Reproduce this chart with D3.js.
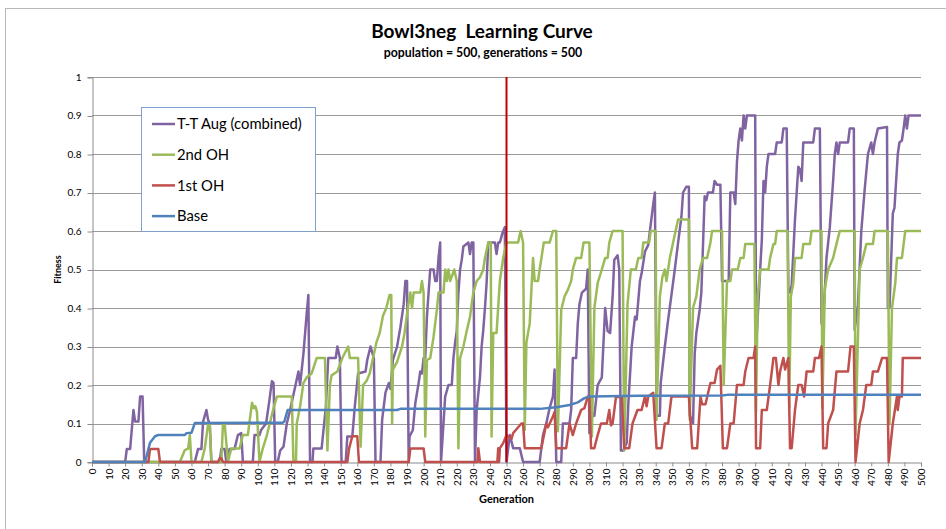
<!DOCTYPE html>
<html><head><meta charset="utf-8">
<script src="https://cdn.jsdelivr.net/npm/d3@7"></script>
<style>body{margin:0;background:#fff;}svg{display:block;font-family:Lato,"Open Sans",sans-serif;}text{white-space:pre;}</style>
</head><body><svg id="c" width="946" height="529"></svg>
<script>
const title = "Bowl3neg  Learning Curve";
const subtitle = "population = 500, generations = 500";
const xLabel = "Generation";
const yLabel = "Fitness";
const xTicks = d3.range(0, 501, 10);
const yTicks = [0,0.1,0.2,0.3,0.4,0.5,0.6,0.7,0.8,0.9,1];
const yTickLabels = ["0","0.1","0.2","0.3","0.4","0.5","0.6","0.7","0.8","0.9","1"];
const markerGen = 250;
const seriesNames = ["T-T Aug (combined)","2nd OH","1st OH","Base"];
const seriesColors = ["#8064a2","#9bbb59","#c0504d","#4f81bd"];

// [generation, fitness] points
const ttAug = [[0,0],[20,0],[21,0.034],[23,0.034],[25,0.135],[26,0.105],[28,0.105],[29,0.17],[30.5,0.17],[31.5,0],
[62,0],[64,0.034],[66,0.034],[67,0.105],[69,0.135],[70,0.11],[71,0.1],[72,0],
[77,0],[78,0.034],[80,0.034],[81,0],[83,0.034],[86,0.034],[88,0.07],[90,0.075],[91,0],
[97,0],[98,0.07],[101,0.07],[102,0.083],[105,0.1],[107,0.16],[108.5,0.21],[109.5,0.205],[110.5,0],
[112,0],[113.5,0.03],[115.5,0.04],[117.5,0.1],[119.5,0.135],[122.5,0.195],[124.5,0.235],[125.5,0.2],[127.5,0.28],[129.5,0.386],[130.5,0.434],[131.5,0],
[133,0],[133.5,0.035],[138.5,0.035],[140,0.1],[141,0.14],[142.5,0.27],[147,0.27],[148,0.3],[149.5,0.27],[150.5,0],
[153,0],[154,0.066],[157,0.066],[158.5,0.144],[160.5,0.23],[165,0.235],[166,0.265],[168,0.3],[170,0.27],[171,0],
[174,0],[175,0.11],[177,0.18],[179,0.205],[180,0.19],[181.5,0.265],[184,0.3],[186,0.35],[188,0.41],[189,0.47],[190,0.47],[191,0],
[191.5,0.066],[193.5,0.083],[195,0.153],[197,0.205],[198,0.235],[199,0.23],[200,0.27],[201,0.27],[202,0.377],[203,0.44],[204,0.5],[206,0.5],[207,0.47],[208,0.47],[209,0.53],[210,0.57],[210.5,0],
[212,0.1],[213,0.17],[215,0.2],[217,0.2],[218,0.27],[219,0.31],[220,0.34],[221,0.44],[222,0.5],[223,0.525],[224,0.56],[227,0.57],[228,0.54],[229,0.57],[230,0.57],[231,0],
[232,0.135],[234,0.22],[235,0.3],[236,0.343],[237,0.4],[238,0.465],[239,0.57],[243,0.57],[244,0.54],[245,0.57],[246,0.57],[247.5,0.594],[249,0.61],[250,0],
[252,0.07],[254,0.036],[258,0.036],[260,0],[270,0],[272,0.07],[274,0.1],[276,0.14],[278,0.17],[279,0.24],[280,0],[283,0],
[284,0.1],[288,0.1],[289,0.135],[290,0.27],[292,0.27],[293,0.36],[294,0.41],[295.5,0.44],[298,0.45],[299,0.5],[300,0.075],
[301,0.1],[302,0.127],[303,0.12],[305,0.2],[307.5,0.22],[309.5,0.4],[311,0.34],[312.5,0.335],[314,0.43],[315,0.525],[317,0.537],[318,0.5],[319,0.03],
[320.5,0.03],[322.5,0.05],[323.5,0.153],[325.5,0.3],[327.5,0.377],[328.5,0.37],[330.5,0.47],[331.5,0.49],[333.5,0.546],[335.5,0.564],[336.5,0.6],[338.5,0.67],[339.5,0.7],[340.5,0.12],
[342.5,0.12],[343,0.205],[345.5,0.3],[347.5,0.37],[349.5,0.434],[351.5,0.5],[353.5,0.57],[355.5,0.637],[356.5,0.7],[358.5,0.715],[360,0.715],[360.5,0.12],[362.5,0.1],
[363.5,0.28],[364.5,0.335],[366.5,0.395],[367.5,0.44],[368.5,0.56],[369.5,0.69],[370.5,0.68],[371.5,0.7],[374.5,0.7],[375.5,0.73],[377,0.72],[379,0.72],[380,0.47],[384,0.47],
[385,0.7],[387,0.7],[388,0.67],[389,0.78],[390,0.835],[391,0.866],[392,0.835],[393,0.9],[394,0.866],[395,0.9],[400,0.9],[400.5,0.335],[401,0.335],
[403,0.5],[404,0.577],[405,0.73],[406,0.7],[407,0.767],[408,0.8],[412,0.8],[413,0.83],[416,0.83],[417,0.866],[419,0.866],[420,0.45],[421,0.44],[422,0.46],
[424,0.63],[426,0.767],[427,0.76],[428,0.73],[429,0.83],[435,0.83],[436,0.866],[439,0.866],[440,0.36],[441,0.365],[443,0.53],[445,0.61],[447,0.73],[448,0.8],[449,0.83],[450,0.8],[451,0.83],[456,0.83],[457,0.866],[459.5,0.866],
[460,0.343],[462,0.41],[464,0.6],[466,0.706],[468,0.8],[470,0.83],[471,0.8],[472,0.83],[474,0.866],[479.5,0.87],[480,0.4],[481,0.4],[483,0.646],[484,0.66],[486,0.8],[487,0.83],[488.5,0.835],[489.5,0.866],[490.5,0.9],[491.5,0.866],[492.5,0.9],[500,0.9]];

const oh2 = [[0,0],[53,0],[56,0.031],[58,0.035],[59,0.07],[60,0],[66,0],[68,0.035],[70,0.097],[71,0.1],[72,0],[78,0],[79,0.1],[80,0.1],[82,0],
[84,0.035],[89,0.035],[91,0.07],[94,0.07],[96.5,0.154],[97.5,0.14],[98.5,0.145],[99.5,0.13],[101,0],[103,0.035],[105.5,0.07],[107.5,0.105],[109.5,0.14],[111.5,0.17],[120.5,0.17],[121.5,0],[123,0],
[123.5,0.1],[125.5,0.144],[127.5,0.205],[129.5,0.22],[132.5,0.23],[135.5,0.27],[140.5,0.27],[142,0.03],[143.5,0.2],[144.5,0.225],[148,0.235],[151,0.27],[154.5,0.3],[155.5,0.27],[160.5,0.27],[162,0.04],
[163.5,0.2],[165.5,0.21],[167.5,0.23],[169.5,0.27],[171.5,0.31],[173.5,0.335],[175.5,0.38],[177.5,0.4],[179.5,0.434],[180.5,0.434],[181,0.1],[181.5,0.24],[184,0.26],[187,0.3],[188.5,0.335],[190.5,0.4],
[192,0.44],[193,0.4],[194,0.44],[198,0.44],[199,0.47],[200,0.44],[201,0.066],[202,0.265],[204,0.27],[206,0.325],[208,0.395],[209,0.44],[212,0.44],[213,0.5],[214,0.47],[215,0.5],[216,0.47],[218.5,0.5],[220,0.47],[221,0.036],
[222,0.27],[224,0.3],[226,0.34],[228,0.377],[229,0.41],[230,0.44],[232,0.47],[234,0.48],[236,0.5],[237,0.53],[239,0.57],[240.5,0.57],[241,0.066],[242,0.335],[244,0.335],[246,0.47],[247,0.5],[248,0.53],[250,0.57],
[257,0.57],[258.5,0.6],[260,0.57],[261,0.083],[262,0.31],[264,0.36],[266,0.53],[267,0.47],[269,0.47],[270,0.5],[272.5,0.57],[276,0.57],[278,0.6],[280,0.6],[281,0.08],
[283,0.395],[285,0.43],[287,0.447],[289,0.47],[290,0.5],[292,0.53],[295,0.53],[296.5,0.57],[300,0.57],[301.5,0.066],[303,0.4],[305,0.465],[307.5,0.5],[309.5,0.53],[311,0.53],[312,0.57],[314,0.6],[320,0.6],[321,0.03],
[323,0.41],[325,0.5],[328,0.5],[329.5,0.53],[331.5,0.53],[332.5,0.57],[336,0.57],[337,0.6],[340,0.6],[340.5,0.11],[342.5,0.43],[344,0.48],[345.5,0.5],[346.5,0.47],[348.5,0.53],[350.5,0.57],[353.5,0.63],[360,0.63],[360.5,0.11],
[362.5,0.4],[364.5,0.43],[366.5,0.5],[368.5,0.53],[371,0.53],[373,0.57],[374,0.6],[380,0.6],[381,0.2],[383,0.47],[385,0.47],[386,0.5],[389.5,0.5],[391,0.53],[393,0.53],[394,0.566],[399.5,0.566],[400.5,0.13],
[401.5,0.43],[403,0.5],[408,0.5],[409,0.53],[411,0.566],[412,0.566],[413,0.6],[419.5,0.6],[420.5,0.14],[421.5,0.43],[423,0.465],[424,0.53],[428,0.53],[429,0.566],[433,0.566],[434,0.6],[440,0.6],[440.5,0.14],
[442,0.45],[444,0.5],[447,0.53],[449,0.566],[451,0.6],[460,0.6],[460.5,0.07],[463,0.5],[465,0.53],[467,0.566],[471,0.566],[472,0.6],[480,0.6],[481,0.1],[482.5,0.4],[484.5,0.465],[485.5,0.53],[488.5,0.53],[489.5,0.566],[490.5,0.6],[500,0.6]];

const oh1 = [[0,0],[34,0],[35,0.034],[40,0.034],[41,0],[76,0],[77,0.01],[78,0.01],[79,0],[154,0],[155,0.034],[157,0.067],[160,0.067],[161,0],
[191,0],[192,0.035],[200,0.035],[201,0],[232.5,0],[233,0.036],[234,0],[244.5,0],[245,0.036],[245.5,0],[246,0.036],[248,0.049],[250,0.07],[251,0.067],[253,0.06],[254,0.075],[256,0.085],[259,0.1],[260,0.1],[261,0.036],
[271,0.036],[274,0.1],[275,0.09],[278,0.118],[279,0.13],[280,0.036],[286,0.036],[288,0.1],[290,0.07],[292,0.1],[295,0.135],[297,0.14],[299,0.17],[300,0.17],[301,0.036],
[303,0.036],[305,0.07],[307,0.1],[310.5,0.1],[312,0.135],[313,0.095],[314,0.1],[316,0.168],[319.5,0.17],[321,0.036],[324,0.036],[326,0.1],[329,0.135],[331.5,0.135],[333.5,0.17],[334.5,0.145],[335.5,0.17],[338.5,0.18],[340.5,0.036],
[343.5,0.036],[345.5,0.1],[347.5,0.1],[349.5,0.17],[360,0.17],[362,0.036],[365,0.036],[367,0.17],[368,0.15],[370,0.15],[373,0.205],[375.5,0.205],[377,0.24],[379,0.25],[380.5,0.036],
[383,0.036],[385,0.1],[387,0.1],[389,0.2],[393,0.2],[394,0.235],[396,0.27],[399,0.27],[400,0.3],[400.5,0.036],[403,0.036],[404,0.135],[407,0.135],[409,0.2],[411,0.27],[412.5,0.27],[414,0.2],[415,0.235],[417,0.27],[418,0.24],[420,0.27],[421,0.036],
[422,0.036],[424,0.135],[426,0.2],[428,0.2],[429.5,0.17],[431,0.235],[435,0.235],[436,0.27],[438.5,0.27],[440,0.3],[441,0.036],[443,0.036],[444,0.1],[447,0.135],[449,0.235],[456,0.235],[457.5,0.3],[459.5,0.3],[460.5,0],
[463,0.1],[465,0.135],[467,0.2],[470,0.2],[471,0.235],[474,0.235],[476.5,0.27],[479.5,0.27],[480.5,0],[483,0.1],[485.5,0.17],[486,0.135],[487,0.17],[488.5,0.17],[489,0.27],[500,0.27]];

const base = [[0,0],[32,0],[35,0.05],[38,0.067],[40,0.07],[56,0.07],[57,0.075],[60,0.076],[62,0.101],[115,0.102],[116,0.105],[118,0.135],[184,0.135],[186,0.138],
[270,0.138],[280,0.142],[288,0.148],[293,0.155],[297,0.166],[300,0.17],[330,0.172],[380,0.173],[384,0.175],[500,0.175]];

const seriesData = [ttAug, oh2, oh1, base];

const W = 946, H = 529;
const margin = {left: 92, right: 25, top: 77, bottom: 67};
const svg = d3.select("#c");

// outer chart frame
svg.append("rect").attr("x", 5.5).attr("y", 8.5).attr("width", 950).attr("height", 530)
  .attr("fill", "#fff").attr("stroke", "#b8b8b8").attr("stroke-width", 1);

const x = d3.scaleLinear().domain([0, 500]).range([margin.left, W - margin.right]);
const y = d3.scaleLinear().domain([0, 1]).range([H - margin.bottom, margin.top]);

// gridlines
svg.append("g").selectAll("line").data(yTicks.slice(1)).join("line")
  .attr("x1", x(0)).attr("x2", x(500))
  .attr("y1", d => Math.round(y(d)) + 0.5).attr("y2", d => Math.round(y(d)) + 0.5)
  .attr("stroke", "#9a9a9a").attr("stroke-width", 1);

// y axis
const yAxis = svg.append("g").attr("transform", `translate(${Math.round(x(0)) + 0.5},0)`)
  .call(d3.axisLeft(y).tickValues(yTicks).tickFormat((d, i) => yTickLabels[i]).tickSize(5).tickPadding(6));
yAxis.select(".domain").attr("stroke", "#8c8c8c");
yAxis.selectAll(".tick line").attr("stroke", "#8c8c8c").attr("transform", "translate(0,0.5)");
yAxis.selectAll("text").attr("font-size", 10).attr("fill", "#000").attr("font-family", "Lato, sans-serif");

// x axis
const xAxis = svg.append("g").attr("transform", `translate(0,${Math.round(y(0)) + 0.5})`)
  .call(d3.axisBottom(x).tickValues(xTicks).tickFormat(d3.format("d")).tickSize(4));
xAxis.select(".domain").attr("stroke", "#8c8c8c");
xAxis.selectAll(".tick line").attr("stroke", "#8c8c8c");
xAxis.selectAll("text").attr("font-size", 10).attr("fill", "#000").attr("font-family", "Lato, sans-serif")
  .attr("transform", "rotate(-90)").attr("text-anchor", "end")
  .attr("x", -6).attr("y", 0).attr("dy", "0.35em");

// series
const line = d3.line().x(d => x(d[0])).y(d => y(d[1]));
seriesData.forEach((s, i) => {
  svg.append("path").datum(s).attr("d", line)
    .attr("fill", "none").attr("stroke", seriesColors[i]).attr("stroke-width", 2.5)
    .attr("stroke-linejoin", "round");
});

// marker line at generation 250
svg.append("line").attr("x1", x(markerGen)).attr("x2", x(markerGen))
  .attr("y1", y(1)).attr("y2", y(0)).attr("stroke", "#c00000").attr("stroke-width", 2);

// titles
svg.append("text").attr("x", 482).attr("y", 38).attr("text-anchor", "middle")
  .attr("font-size", 19).attr("font-weight", "bold").text(title);
svg.append("text").attr("x", 483).attr("y", 57).attr("text-anchor", "middle")
  .attr("font-size", 12.3).attr("font-weight", "bold").text(subtitle);
svg.append("text").attr("x", x(250)).attr("y", 503).attr("text-anchor", "middle")
  .attr("font-size", 11).attr("font-weight", "bold").text(xLabel);
svg.append("text").attr("transform", `translate(61,${y(0.5)}) rotate(-90)`).attr("text-anchor", "middle")
  .attr("font-size", 9).attr("font-weight", "bold").text(yLabel);

// legend
const lg = svg.append("g");
lg.append("rect").attr("x", 141.5).attr("y", 107.5).attr("width", 174).attr("height", 124)
  .attr("fill", "#fff").attr("stroke", "#7f9fcf").attr("stroke-width", 1);
seriesNames.forEach((n, i) => {
  const yy = 124 + i * 30.7;
  lg.append("line").attr("x1", 152).attr("x2", 175).attr("y1", yy).attr("y2", yy)
    .attr("stroke", seriesColors[i]).attr("stroke-width", 2.5);
  lg.append("text").attr("x", 177).attr("y", yy).attr("dy", "0.35em")
    .attr("font-size", 14.8).attr("fill", "#000").text(n);
});
</script></body></html>
